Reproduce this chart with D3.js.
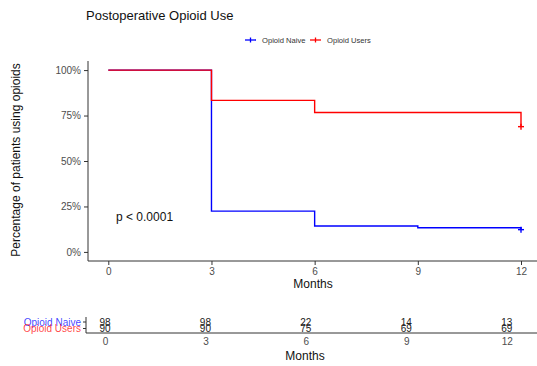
<!DOCTYPE html>
<html>
<head>
<meta charset="utf-8">
<script src="https://cdn.jsdelivr.net/npm/d3@7"></script>
<style>
  body { margin: 0; background: #fff; }
  svg { display: block; font-family: "Liberation Sans", Arial, sans-serif; }
</style>
</head>
<body>
<svg id="chart" width="537" height="366"></svg>
<script>
// ---- data ----
const groups = ["Opioid Naive", "Opioid Users"];
const groupColors = ["#0000FF", "#FF0000"];
// step curve: times and survival proportions
const naiveTimes = [0, 3, 6, 9, 12];
const naiveSurv  = [1.0, 0.2245, 0.1429, 0.1327, 0.1224];
const usersTimes = [0, 3, 6, 12];
const usersSurv  = [1.0, 0.8333, 0.7667, 0.6889];
const riskTimes = [0, 3, 6, 9, 12];
const naiveAtRisk = [98, 98, 22, 14, 13];
const usersAtRisk = [90, 90, 75, 69, 69];
const yTicks = [0, 0.25, 0.5, 0.75, 1.0];
const xTicks = [0, 3, 6, 9, 12];
const title = "Postoperative Opioid Use";
const pText = "p < 0.0001";

const svg = d3.select("#chart");
const axisCol = "#333333";
const tickTextCol = "#4d4d4d";

// ---- main panel ----
const x = d3.scaleLinear().domain([0, 12]).range([108.3, 521]);
const y = d3.scaleLinear().domain([-0.05, 1.05]).range([261, 61]);

svg.append("text").attr("x", 86).attr("y", 20).attr("font-size", 13).attr("fill", "#111")
  .text(title);

// legend
const legX = [245, 310];
groups.forEach((g, i) => {
  const lg = svg.append("g");
  lg.append("line").attr("x1", legX[i]).attr("x2", legX[i] + 11).attr("y1", 40).attr("y2", 40)
    .attr("stroke", groupColors[i]).attr("stroke-width", 1.3);
  lg.append("line").attr("x1", legX[i] + 5.5).attr("x2", legX[i] + 5.5).attr("y1", 37.5).attr("y2", 42.5)
    .attr("stroke", groupColors[i]).attr("stroke-width", 1.3);
  lg.append("text").attr("x", legX[i] + 17).attr("y", 43).attr("font-size", 7.6).attr("fill", "#333")
    .text(g);
});

// axes
const yAxis = d3.axisLeft(y).tickValues(yTicks).tickFormat(d3.format(".0%")).tickSize(4).tickPadding(3);
const gy = svg.append("g").attr("transform", "translate(88,0)").call(yAxis);
const xAxis = d3.axisBottom(x).tickValues(xTicks).tickSize(4).tickPadding(3);
const gx = svg.append("g").attr("transform", "translate(0,261)").call(xAxis);
[gx, gy].forEach(g => {
  g.select(".domain").remove();
  g.selectAll(".tick line").attr("stroke", axisCol);
  g.selectAll(".tick text").attr("fill", tickTextCol).attr("font-size", 10)
    .attr("font-family", "Liberation Sans, Arial, sans-serif");
});
svg.append("line").attr("x1", 88).attr("x2", 88).attr("y1", 61).attr("y2", 261).attr("stroke", axisCol);
svg.append("line").attr("x1", 88).attr("x2", 537).attr("y1", 261).attr("y2", 261).attr("stroke", axisCol);

svg.append("text").attr("x", 313).attr("y", 288).attr("text-anchor", "middle").attr("font-size", 12)
  .attr("fill", "#111").text("Months");
svg.append("text").attr("transform", "translate(20,160) rotate(-90)").attr("text-anchor", "middle")
  .attr("font-size", 12).attr("fill", "#111").text("Percentage of patients using opioids");

// curves (naive first, users drawn on top)
const line = d3.line().x(d => x(d[0])).y(d => y(d[1])).curve(d3.curveStepAfter);
const series = [
  { times: naiveTimes, surv: naiveSurv, color: groupColors[0] },
  { times: usersTimes, surv: usersSurv, color: groupColors[1] }
];
series.forEach(s => {
  const pts = s.times.map((t, i) => [t, s.surv[i]]);
  svg.append("path").datum(pts).attr("d", line).attr("fill", "none")
    .attr("stroke", s.color).attr("stroke-width", 1.4);
  const last = pts[pts.length - 1];
  const cx = x(last[0]), cy = y(last[1]);
  svg.append("line").attr("x1", cx - 3).attr("x2", cx + 3).attr("y1", cy).attr("y2", cy)
    .attr("stroke", s.color).attr("stroke-width", 1.4);
  svg.append("line").attr("x1", cx).attr("x2", cx).attr("y1", cy - 3).attr("y2", cy + 3)
    .attr("stroke", s.color).attr("stroke-width", 1.4);
});

svg.append("text").attr("x", 116).attr("y", 221).attr("font-size", 12).attr("fill", "#111").text(pText);

// ---- risk table ----
const xr = d3.scaleLinear().domain([0, 12]).range([105, 506.7]);
const yr = d3.scalePoint().domain(groups).range([322, 328.5]);
const gxr = svg.append("g").attr("transform", "translate(0,333)")
  .call(d3.axisBottom(xr).tickValues(xTicks).tickSize(0).tickPadding(5));
gxr.select(".domain").remove();
gxr.selectAll(".tick text").attr("fill", tickTextCol).attr("font-size", 10)
  .attr("font-family", "Liberation Sans, Arial, sans-serif");
svg.append("line").attr("x1", 86).attr("x2", 537).attr("y1", 333).attr("y2", 333).attr("stroke", axisCol);
svg.append("line").attr("x1", 86).attr("x2", 86).attr("y1", 317).attr("y2", 333).attr("stroke", axisCol);
groups.forEach((g, i) => {
  svg.append("line").attr("x1", 83).attr("x2", 86).attr("y1", yr(g)).attr("y2", yr(g)).attr("stroke", axisCol);
  svg.append("text").attr("x", 81).attr("y", yr(g) + 3.5).attr("text-anchor", "end").attr("font-size", 10)
    .attr("fill", groupColors[i]).attr("fill-opacity", 0.75).text(g);
});
const riskRows = [naiveAtRisk, usersAtRisk];
riskRows.forEach((row, i) => {
  row.forEach((v, j) => {
    svg.append("text").attr("x", xr(riskTimes[j])).attr("y", yr(groups[i]) + 3.5)
      .attr("text-anchor", "middle").attr("font-size", 10).attr("fill", "#222").text(v);
  });
});
svg.append("text").attr("x", 305).attr("y", 360).attr("text-anchor", "middle").attr("font-size", 12)
  .attr("fill", "#111").text("Months");
</script>
</body>
</html>
